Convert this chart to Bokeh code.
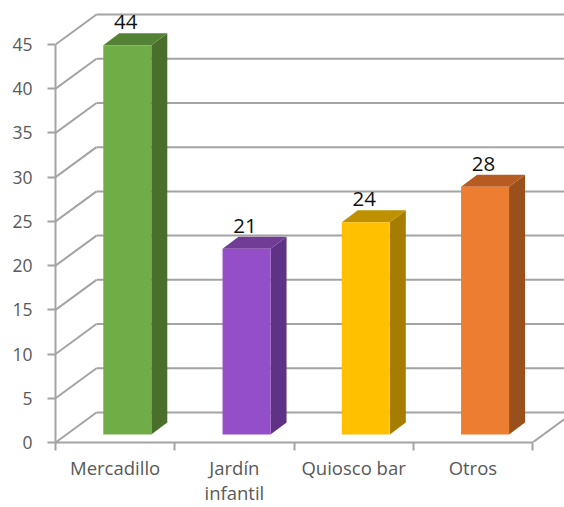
from bokeh.plotting import figure
from bokeh.embed import file_html
from bokeh.resources import INLINE
from bokeh.models import FixedTicker, Range1d
from bokeh.core.properties import value as fv

categories = ["Mercadillo", "Jardín\ninfantil", "Quiosco bar", "Otros"]
values = [44, 21, 24, 28]
y_ticks = [0, 5, 10, 15, 20, 25, 30, 35, 40, 45]
front_colors = ["#70AD47", "#944FC8", "#FFC000", "#ED7D31"]
side_colors = ["#4A6E2B", "#5F3285", "#A67D00", "#99501C"]
top_colors = ["#548235", "#703C96", "#BF9000", "#B65C22"]

FONT = "Open Sans"
W, H = 564, 507
LEFT, BOTTOM = 55, 65
PX_X = 119.25   # pixels per category
PX_Y = 8.844    # pixels per value unit
GRID = "#A3A3A3"

fw = W - LEFT
fh = H - BOTTOM
p = figure(width=W, height=H, output_backend="svg", toolbar_location=None,
           x_range=Range1d(0, fw / PX_X), y_range=Range1d(0, fh / PX_Y),
           min_border_left=LEFT, min_border_right=0, min_border_top=0, min_border_bottom=BOTTOM,
           outline_line_color=None, background_fill_color="white", border_fill_color="white")
p.grid.visible = False

wall_dx, wall_dy = 41 / PX_X, 30 / PX_Y
# back wall gridlines and left wall diagonals
p.segment(x0=[0] * len(y_ticks), y0=y_ticks, x1=[wall_dx] * len(y_ticks),
          y1=[t + wall_dy for t in y_ticks], line_color=GRID, line_width=2)
p.segment(x0=[wall_dx] * len(y_ticks), y0=[t + wall_dy for t in y_ticks],
          x1=[len(values) + wall_dx] * len(y_ticks), y1=[t + wall_dy for t in y_ticks],
          line_color=GRID, line_width=2)
# floor right edge
p.segment(x0=[len(values)], y0=[0], x1=[len(values) + wall_dx], y1=[wall_dy], line_color=GRID, line_width=2)

# 3D bars
bar_left, bar_w = 47.8 / PX_X, 48 / PX_X
base = 8 / PX_Y
dx, dy = 16 / PX_X, 12 / PX_Y
for i, v in enumerate(values):
    x0 = i + bar_left
    x1 = x0 + bar_w
    y0 = base
    y1 = base + v
    p.patch([x1, x1 + dx, x1 + dx, x1], [y0, y0 + dy, y1 + dy, y1], fill_color=side_colors[i], line_color=None)
    p.patch([x0, x1, x1 + dx, x0 + dx], [y1, y1, y1 + dy, y1 + dy], fill_color=top_colors[i], line_color=None)
    p.patch([x0, x1, x1, x0], [y0, y0, y1, y1], fill_color=front_colors[i], line_color=None)

p.text(x=[i + bar_left + bar_w / 2 for i in range(len(values))],
       y=[v + base + 23 / PX_Y for v in values],
       text=[str(v) for v in values], text_font=fv(FONT), text_font_size="20.5px",
       text_color="#111111", text_align="center", text_baseline="alphabetic", x_offset=-1.5)

ya = p.yaxis[0]
ya.ticker = FixedTicker(ticks=y_ticks)
ya.bounds = (0, 45)
ya.axis_line_color = GRID
ya.axis_line_width = 2
ya.major_tick_line_color = GRID
ya.major_tick_line_width = 2
ya.major_tick_out = 8
ya.major_tick_in = 0
ya.minor_tick_line_color = None
ya.major_label_standoff = 15
ya.major_label_text_font = FONT
ya.major_label_text_font_size = "17.5px"
ya.major_label_text_color = "#595959"

xa = p.xaxis[0]
centers = [i + 0.5 for i in range(len(categories))]
xa.ticker = FixedTicker(ticks=centers, minor_ticks=list(range(len(categories) + 1)))
xa.major_label_overrides = dict(zip(centers, categories))
xa.bounds = (0, len(categories))
xa.axis_line_color = GRID
xa.axis_line_width = 2
xa.major_tick_line_color = None
xa.major_tick_out = 8
xa.major_tick_in = 0
xa.minor_tick_line_color = GRID
xa.minor_tick_line_width = 2
xa.minor_tick_out = 8
xa.minor_tick_in = 0
xa.major_label_standoff = 4
xa.major_label_text_font = FONT
xa.major_label_text_font_size = "18.5px"
xa.major_label_text_line_height = 1.0
xa.major_label_text_color = "#595959"
xa.major_label_orientation = "horizontal"

open("out.html", "w").write(file_html(p, INLINE))
